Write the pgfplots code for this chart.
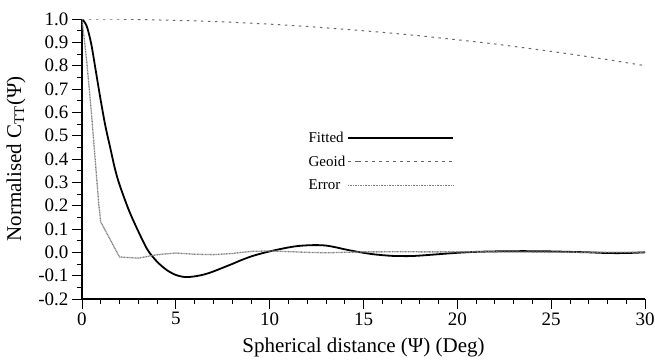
\documentclass[border=0pt]{standalone}
\usepackage{pgfplots}
\pgfplotsset{compat=1.18}
\usepackage{fontspec}
\setmainfont{Liberation Serif}
\begin{document}
\begin{tikzpicture}
\begin{axis}[
  name=main,
  scale only axis,
  width=563pt, height=280pt,
  xmin=0, xmax=30, ymin=-0.2, ymax=1.0,
  axis x line*=bottom, axis y line*=left,
  axis line style={line width=2pt},
  xtick={0,5,...,30}, ytick={-0.2,-0.1,...,1.0},
  minor x tick num=4, minor y tick num=1,
  tick align=outside,
  major tick length=10pt, minor tick length=5pt,
  tick style={black, line width=0.8pt},
  yticklabel style={/pgf/number format/fixed, /pgf/number format/fixed zerofill, /pgf/number format/precision=1},
  /pgf/number format/assume math mode=true,
  ticklabel style={font=\fontsize{19}{21}\selectfont},
  label style={font=\fontsize{21}{23}\selectfont},
  xlabel={Spherical distance (Ψ) (Deg)},
  ylabel={Normalised C$_{\mathrm{TT}}$(Ψ)},
  xlabel style={at={(axis description cs:0.5,0)}, anchor=base, yshift=-53pt},
  ylabel style={at={(axis description cs:0,0.5)}, anchor=center, yshift=66pt},
  legend style={draw=none, fill=none, at={(axis cs:11.8,0.535)}, anchor=north west,
    font=\fontsize{15}{17}\selectfont, row sep=8pt},
  legend plot pos=right,
  legend cell align=left,
  legend image code/.code={\path (0pt,0pt) -- (10pt,0pt); \draw[#1] (10pt,0pt) -- (105pt,0pt);},
]
\addplot[black, line width=1.8pt, smooth] coordinates {
(0,1.0) (0.25,0.97) (0.5,0.89) (0.75,0.77) (1.0,0.65) (1.25,0.54) (1.5,0.45)
(1.75,0.36) (2.0,0.29) (2.5,0.18) (3.0,0.09) (3.5,0.01) (4.0,-0.04)
(4.5,-0.075) (5.0,-0.097) (5.5,-0.106) (6.0,-0.103)
(6.5,-0.095) (7.0,-0.082) (7.5,-0.066) (8.0,-0.05) (8.5,-0.033) (9.0,-0.018)
(9.5,-0.006) (10.0,0.004) (10.5,0.013) (11.0,0.021) (11.5,0.027) (12.0,0.030)
(12.5,0.031) (13.0,0.029) (13.5,0.022) (14.0,0.013) (14.5,0.005) (15.0,-0.002)
(15.5,-0.008) (16.0,-0.012) (16.5,-0.015) (17.0,-0.016) (17.5,-0.016) (18.0,-0.014)
(19.0,-0.008) (20.0,-0.002) (21.0,0.002) (22.0,0.004) (23.0,0.005) (24.0,0.005)
(25.0,0.004) (26.0,0.002) (27.0,0.0) (28.0,-0.003) (29.0,-0.003) (30.0,0.0)
};
\addlegendentry{Fitted}
\addplot[black!60, line width=1pt, dash pattern=on 2.5pt off 4.5pt] coordinates {
(0,1.0) (2,0.999) (4,0.996) (6,0.992) (8,0.986) (10,0.978) (12,0.968) (14,0.956)
(16,0.943) (18,0.928) (20,0.911) (22,0.893) (24,0.872) (26,0.850) (28,0.826) (30,0.800)
};
\addlegendentry{Geoid}
\addplot[black!50, line width=1.3pt, dash pattern=on 1pt off 0.6pt] coordinates {
(0,1.0) (0.25,0.82) (0.5,0.6) (0.75,0.35) (0.9,0.2) (1.0,0.13) (2.0,-0.02)
(3.0,-0.025) (4.0,-0.01) (5.0,-0.003) (6.0,-0.008) (7.0,-0.01) (8.0,-0.005)
(9.0,0.004) (10.0,0.006) (11.0,0.003) (12.0,0.0) (13.0,-0.002) (14.0,0.0)
(15.0,0.002) (16.0,0.002) (17.0,0.003) (18.0,0.002) (19.0,0.002) (20.0,0.002)
(22.0,0.002) (24.0,0.001) (26.0,0.001) (28.0,0.0) (30.0,0.001)
};
\addlegendentry{Error}
\end{axis}
\pgfresetboundingbox
\path[use as bounding box] ([shift={(-82pt,-60pt)}]main.south west) rectangle ([shift={(10pt,19pt)}]main.north east);
\end{tikzpicture}
\end{document}
